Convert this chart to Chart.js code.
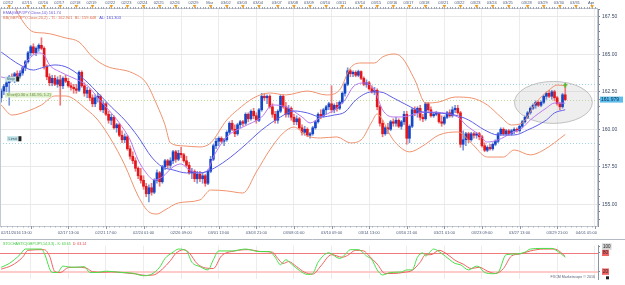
<!DOCTYPE html>
<html>
<head>
<meta charset="utf-8">
<script src="https://cdn.jsdelivr.net/npm/chart.js@4.4.0/dist/chart.umd.min.js"></script>
<style>
  html, body { margin: 0; padding: 0; background: #fff; }
  #wrap { position: relative; width: 625px; height: 285px; overflow: hidden; }
  .box { position: absolute; left: 0; width: 625px; }
</style>
</head>
<body>
<div id="wrap">
  <div class="box" style="top:0;height:240px"><canvas id="main"></canvas></div>
  <div class="box" style="top:240px;height:45px"><canvas id="stoch"></canvas></div>
</div>
<script>
// GBP/JPY 4h candles, 02/11/2016 13:00 -> 03/30
const opens = [
  162.10,162.55,162.85,163.10,163.50,163.40,163.70,163.55,163.75,164.10,
  164.50,165.10,165.50,165.10,165.40,165.60,165.40,164.20,163.50,163.10,
  163.40,163.00,163.30,162.90,163.40,163.20,162.90,162.80,162.70,162.60,
  163.80,162.90,162.40,162.60,162.10,161.70,162.10,162.20,161.30,161.70,
  161.00,160.60,160.80,160.10,160.30,159.60,159.30,159.50,158.70,158.20,
  157.90,157.40,156.90,156.60,156.20,155.70,156.10,155.80,156.60,157.10,
  156.50,157.50,157.90,157.60,157.90,158.50,158.00,158.40,158.30,157.90,
  157.60,157.10,157.20,156.70,157.00,156.70,156.90,156.40,157.20,158.00,
  158.90,159.20,159.40,159.20,159.30,159.80,160.40,160.00,159.70,160.30,
  160.50,160.40,161.00,160.70,161.20,160.90,160.60,161.30,162.20,162.10,
  162.20,161.50,161.00,160.60,161.20,162.20,161.50,161.00,161.40,160.80,
  160.50,160.70,160.10,159.80,160.00,159.60,159.70,160.10,160.50,161.00,
  160.90,161.30,161.50,161.70,161.30,161.60,161.40,161.80,162.40,163.00,
  163.90,163.70,163.80,163.60,163.85,163.40,163.00,163.10,162.70,162.50,
  162.60,161.50,160.40,159.70,160.10,160.00,160.50,160.40,160.60,160.20,
  160.50,161.00,159.40,160.20,161.30,161.10,161.40,160.80,160.70,161.70,
  161.30,160.90,161.00,161.05,160.50,160.40,160.80,161.10,160.90,161.30,
  161.40,161.10,159.00,159.30,159.70,159.30,159.70,159.60,159.70,159.50,
  158.90,158.60,158.80,158.70,159.00,159.20,159.70,160.00,159.70,159.90,
  159.70,159.90,160.00,159.90,160.20,160.50,160.80,161.10,161.40,161.60,
  161.80,161.60,161.80,162.20,162.40,162.20,162.50,162.10,161.70,161.50,
  162.30
];
const highs = [
  162.70,163.00,163.20,163.60,163.70,163.80,163.90,163.90,164.20,164.60,
  165.20,165.60,165.70,165.50,165.70,166.10,165.50,164.30,163.70,163.60,
  163.60,163.50,163.60,163.50,163.60,163.40,163.10,163.00,163.00,163.90,
  163.90,163.10,162.80,162.70,162.30,162.30,162.40,162.30,161.90,161.80,
  161.20,161.00,160.90,160.40,160.40,159.90,159.70,159.60,158.90,158.50,
  158.10,157.50,157.40,156.90,156.40,156.30,156.40,156.70,157.30,157.20,
  157.60,158.00,158.00,158.10,158.60,158.60,158.60,158.80,158.40,158.20,
  157.80,157.40,157.30,157.20,157.20,157.10,157.00,157.30,158.20,159.00,
  159.40,159.50,159.50,159.40,159.90,160.50,160.60,160.30,160.40,160.60,
  160.60,161.10,161.10,161.30,161.40,161.10,161.40,162.40,162.40,162.30,
  162.30,161.70,161.20,161.30,162.30,162.30,161.80,161.60,161.50,161.00,
  160.90,160.80,160.30,160.20,160.10,159.80,160.20,160.60,161.10,161.30,
  161.40,161.60,161.80,162.90,161.70,161.80,161.90,162.50,163.10,164.10,
  164.00,163.90,163.90,163.95,163.90,163.50,163.30,163.20,162.90,162.80,
  162.70,161.60,160.60,160.20,160.40,160.60,160.70,160.80,160.70,160.60,
  161.20,161.20,160.30,161.40,161.50,161.50,161.60,161.00,161.80,161.80,
  161.50,161.10,161.20,161.10,160.90,160.90,161.20,161.30,161.50,161.60,
  161.60,161.20,159.90,159.80,159.80,159.80,159.80,159.80,159.80,159.60,
  159.10,158.90,159.00,159.10,159.30,159.80,160.10,160.10,160.00,160.00,
  160.00,160.10,160.10,160.30,160.60,160.90,161.20,161.50,161.70,161.90,
  161.90,161.90,162.30,162.50,162.60,162.60,162.60,162.20,161.80,162.40,
  162.80
];
const lows = [
  161.80,162.30,162.50,161.60,163.20,163.10,163.30,163.40,163.60,163.90,
  164.40,164.90,165.00,164.90,165.20,165.30,164.00,163.30,162.90,162.90,
  162.90,162.80,161.60,162.70,163.10,162.80,162.60,162.40,162.40,162.50,
  162.80,162.20,162.10,161.90,161.50,161.50,161.80,161.20,161.10,160.90,
  160.40,160.30,160.00,159.80,159.50,159.10,159.10,158.60,158.00,157.70,
  157.20,156.70,156.40,156.00,155.50,155.15,155.60,155.70,156.40,156.20,
  156.40,157.30,157.40,157.40,157.70,157.80,157.90,158.10,157.80,157.50,
  157.00,156.70,156.50,156.40,156.50,156.40,156.20,156.30,157.10,157.90,
  158.70,158.90,159.10,158.90,159.20,159.70,159.90,159.50,159.60,160.10,
  160.20,160.30,160.50,160.60,160.70,160.40,160.50,161.20,161.90,161.70,
  161.40,160.80,160.40,160.40,161.10,161.40,160.80,160.80,160.60,160.30,
  160.30,160.00,159.60,159.60,159.50,159.40,159.60,160.00,160.40,160.70,
  160.80,161.00,161.30,161.10,161.10,161.20,161.30,161.70,162.20,162.90,
  163.50,163.50,163.50,163.50,163.30,162.90,162.80,162.60,162.40,162.30,
  161.30,160.20,159.50,159.60,159.70,159.90,160.20,160.20,160.10,160.00,
  160.30,159.00,159.10,160.10,160.90,160.80,160.60,160.50,160.60,161.20,
  160.80,160.80,160.90,160.40,160.20,160.30,160.70,160.80,160.80,161.10,
  161.00,158.80,158.60,158.90,159.10,159.20,159.40,159.40,159.30,158.80,
  158.50,158.50,158.60,158.60,158.90,159.10,159.60,159.60,159.60,159.60,
  159.60,159.70,159.80,159.80,160.10,160.40,160.70,161.00,161.30,161.40,
  161.50,161.50,161.70,162.00,162.10,162.00,161.90,161.60,161.30,161.40,
  161.90
];
const closes = [
  162.55,162.85,163.10,163.50,163.40,163.70,163.55,163.75,164.10,164.50,
  165.10,165.50,165.10,165.40,165.60,165.40,164.20,163.50,163.10,163.40,
  163.00,163.30,162.90,163.40,163.20,162.90,162.80,162.70,162.60,163.80,
  162.90,162.40,162.60,162.10,161.70,162.10,162.20,161.30,161.70,161.00,
  160.60,160.80,160.10,160.30,159.60,159.30,159.50,158.70,158.20,157.90,
  157.40,156.90,156.60,156.20,155.70,156.10,155.80,156.60,157.10,156.50,
  157.50,157.90,157.60,157.90,158.50,158.00,158.40,158.30,157.90,157.60,
  157.10,157.20,156.70,157.00,156.70,156.90,156.40,157.20,158.00,158.90,
  159.20,159.40,159.20,159.30,159.80,160.40,160.00,159.70,160.30,160.50,
  160.40,161.00,160.70,161.20,160.90,160.60,161.30,162.20,162.10,162.20,
  161.50,161.00,160.60,161.20,162.20,161.50,161.00,161.40,160.80,160.50,
  160.70,160.10,159.80,160.00,159.60,159.70,160.10,160.50,161.00,160.90,
  161.30,161.50,161.70,161.30,161.60,161.40,161.80,162.40,163.00,163.90,
  163.70,163.80,163.60,163.85,163.40,163.00,163.10,162.70,162.50,162.60,
  161.50,160.40,159.70,160.10,160.00,160.50,160.40,160.60,160.20,160.50,
  161.00,159.40,160.20,161.30,161.10,161.40,160.80,160.70,161.70,161.30,
  160.90,161.00,161.05,160.50,160.40,160.80,161.10,160.90,161.30,161.40,
  161.10,159.00,159.30,159.70,159.30,159.70,159.60,159.70,159.50,158.90,
  158.60,158.80,158.70,159.00,159.20,159.70,160.00,159.70,159.90,159.70,
  159.90,160.00,159.90,160.20,160.50,160.80,161.10,161.40,161.60,161.80,
  161.60,161.80,162.20,162.40,162.20,162.50,162.10,161.70,161.50,162.30,
  161.98
];

// indicator lines: [bar, value]
const bbUpper = [[5,168.2],[7,167.49],[12,166.49],[16,166.42],[24,166.09],[29,165.82],[34,164.82],[39,164.22],
  [49,163.75],[54,163.09],[58,161.62],[61,160.29],[63,159.09],[68,158.89],[74,158.82],[78,159.09],[84,160.62],
  [88,161.29],[94,162.09],[100,162.42],[106,162.29],[114,162.55],[121,162.29],[126,162.62],[130,164.09],
  [134,164.42],[139,164.42],[142,164.82],[146,165.02],[149,164.82],[154,163.29],[158,161.75],[163,161.82],
  [169,162.15],[175,162.09],[181,161.62],[186,160.82],[190,160.29],[194,160.42],[199,161.75],[204,162.62],
  [207,162.95],[210,162.90]];
const bbLower = [[0,161.62],[4,160.95],[10,161.22],[15,161.62],[20,162.22],[24,162.22],[32,161.29],[36,160.62],
  [41,159.29],[46,157.62],[51,155.55],[55,154.49],[58,154.35],[61,154.62],[66,155.09],[74,155.29],[78,155.95],
  [84,155.89],[90,155.75],[95,157.15],[100,158.62],[105,159.75],[109,160.15],[114,159.55],[119,159.42],
  [125,159.49],[130,159.09],[134,159.29],[138,160.49],[140,161.02],[142,160.62],[145,159.55],[148,158.89],
  [152,158.49],[157,158.89],[163,159.62],[170,159.82],[175,159.09],[181,158.15],[187,158.15],[191,158.62],
  [197,158.29],[202,158.62],[210,159.65]];
const bbMid = [[0,165.15],[7,164.29],[12,163.95],[15,164.09],[20,164.29],[25,164.09],[32,163.15],[36,162.42],
  [41,161.49],[46,160.62],[51,159.49],[56,158.15],[60,157.49],[64,157.29],[69,157.09],[74,157.09],[78,157.29],
  [84,157.95],[90,158.82],[97,159.95],[104,160.82],[109,161.22],[114,161.09],[119,160.82],[124,160.95],
  [128,161.15],[132,161.95],[138,162.49],[141,162.49],[146,162.09],[151,161.62],[157,161.15],[162,161.09],
  [169,160.95],[174,160.62],[180,159.95],[185,159.62],[191,159.62],[196,159.95],[203,160.62],[206,161.09],
  [210,161.30]];
const emaLine = [[0,163.49],[4,163.35],[7,163.82],[10,164.62],[14,165.09],[16,164.95],[18,164.29],[22,163.82],
  [26,163.49],[30,163.15],[33,162.75],[36,162.09],[40,161.29],[44,160.42],[48,159.29],[51,157.95],[54,157.09],
  [57,156.62],[60,156.82],[64,157.49],[67,157.69],[70,157.29],[74,157.09],[77,157.29],[79,158.15],[84,159.49],
  [90,160.15],[97,160.82],[101,161.62],[106,161.49],[112,160.82],[115,160.42],[119,160.82],[124,161.29],
  [128,161.95],[131,162.82],[135,163.09],[139,162.62],[142,161.29],[146,160.82],[149,160.82],[158,161.15],
  [170,160.82],[173,160.29],[178,159.62],[181,159.15],[185,159.29],[190,159.75],[194,160.09],[197,160.62],
  [203,161.42],[206,161.75],[210,161.74]];

// stochastic %K / %D: [bar, value]
const stochK = [[0,34],[3,46],[7,74],[9,92],[15,92],[16,80],[19,17.5],[21,17.5],[23,37.7],[25,35],[28,34],
  [31,36],[33,17.5],[36,17.5],[39,21.5],[44,18],[49,15],[53,7],[56,12],[59,34],[61,62],[64,82],[66,92],
  [69,86],[71,50],[74,36],[77,25.5],[79,58],[81,86],[86,86],[91,92],[96,84],[100,84],[102,66],[104,42],
  [106,58],[108,45],[111,24],[114,11],[116,14],[118,50],[122,80],[126,62],[128,74],[130,90],[133,90],
  [136,70],[138,58],[140,25.5],[142,9.5],[145,17.5],[149,19],[151,25.5],[153,25.5],[155,66],[157,80],
  [158,70],[161,92],[164,78],[167,58],[169,46],[171,42],[174,25.5],[177,37.7],[178,35],[180,17.5],
  [183,13.5],[185,17.5],[188,74],[191,76],[195,82],[197,92],[201,94],[205,94],[207,86],[210,66]];
const stochD = [[0,28],[4,40],[8,66],[10,88],[16,90],[18,70],[20,20],[22,17],[25,33],[29,34],[32,30],
  [34,20],[38,18],[41,19],[45,17],[50,13],[54,8],[57,10],[60,28],[63,55],[65,78],[68,90],[70,80],[73,45],
  [76,32],[79,30],[82,70],[87,86],[92,90],[97,84],[101,82],[103,62],[105,46],[107,52],[110,36],[113,18],
  [116,12],[119,38],[123,74],[127,66],[129,72],[132,88],[135,86],[137,70],[140,44],[143,14],[146,14],
  [150,18],[153,24],[156,50],[158,74],[160,74],[163,88],[166,76],[169,56],[172,44],[175,30],[178,34],
  [181,22],[184,14],[187,30],[190,70],[193,76],[197,86],[202,92],[206,92],[208,84],[210,68]];

// axis labels
const priceTicks = [155, 157.5, 160, 162.5, 165, 167.5];
const dayLabels = ['02/12','02/15','02/16','02/17','02/18','02/19','02/22','02/23','02/24','02/25','02/26',
  '02/29','Mar','03/02','03/03','03/04','03/07','03/08','03/09','03/10','03/11','03/14','03/15','03/16',
  '03/17','03/18','03/21','03/22','03/23','03/24','03/25','03/28','03/29','03/30','03/31','Apr'];
const dayBars = [3,10,16,22,28,34,41,47,53,59,65,72,78,84,90,96,103,109,115,121,127,134,140,146,152,158,
  165,171,177,183,189,196,202,208,214,220];
const timeLabels = ['02/11/2016 13:00','02/17 13:00','02/21 17:00','02/24 01:00','02/26 09:00','03/01 13:00',
  '03/03 21:00','03/08 01:00','03/10 09:00','03/14 13:00','03/16 21:00','03/21 01:00','03/23 09:00',
  '03/27 13:00','03/29 21:00','04/01 05:00'];
const timeBars = [0,25,39,53,67,81,95,109,123,137,151,165,179,193,207,221];
const gridBars = [11,25,39,53,67,81,95,109,123,137,151,165,179,193,207,221];

// orders on the chart
const orderNames = ['Stop', 'Short(0.30 x 161.95, 1.2)', 'Limit'];
const orderPrices = [163.05, 161.98, 159.07];
const lastPrice = 161.979;

const family = "'Liberation Sans', Arial, sans-serif";
const X_MIN = -0.43, X_MAX = 222.2;
const upCol = '#1646c8', dnCol = '#e2161c', upWick = '#7896dc', dnWick = '#ee7878';
const isUp = i => closes[i] >= opens[i];
const pts = arr => arr.map(([x, y]) => ({ x, y }));

function txt(ctx, s, x, y, color, size, align) {
  ctx.font = size + 'px ' + family;
  ctx.fillStyle = color;
  ctx.textAlign = align || 'left';
  ctx.textBaseline = 'middle';
  ctx.fillText(s, x, y);
}

const mainDecor = {
  id: 'mainDecor',
  beforeDatasetsDraw(chart) {
    const { ctx, chartArea: a, scales: { x, y } } = chart;
    ctx.save();
    // order lines
    const lineCols = ['#9fd4e0', '#b8de98', '#9fd4e0'];
    orderPrices.forEach((p, i) => {
      const py = Math.round(y.getPixelForValue(p)) + 0.5;
      ctx.strokeStyle = lineCols[i];
      ctx.setLineDash([1, 2]);
      ctx.lineWidth = 1;
      ctx.beginPath(); ctx.moveTo(a.left, py); ctx.lineTo(a.right, py); ctx.stroke();
    });
    ctx.setLineDash([]);
    // highlight ellipse round the last bars
    const cx = x.getPixelForValue(205.6), cy = y.getPixelForValue(161.79);
    const rx = x.getPixelForValue(205.6 + 14.5) - cx;
    const ry = cy - y.getPixelForValue(161.79 + 1.4);
    ctx.beginPath();
    ctx.ellipse(cx, cy, rx, ry, 0, 0, Math.PI * 2);
    ctx.fillStyle = 'rgba(200,200,200,0.3)';
    ctx.fill();
    ctx.strokeStyle = 'rgba(170,170,170,0.7)';
    ctx.lineWidth = 1;
    ctx.stroke();
    ctx.restore();
  },
  afterDatasetsDraw(chart) {
    const { ctx, chartArea: a, scales: { x, y } } = chart;
    ctx.save();
    // green marker over the last bar
    const mx = x.getPixelForValue(210), my = y.getPixelForValue(162.95);
    ctx.fillStyle = '#58b82c';
    ctx.beginPath(); ctx.moveTo(mx - 2.5, my + 0.5); ctx.lineTo(mx + 2.5, my + 0.5); ctx.lineTo(mx, my - 2.5); ctx.fill();
    ctx.fillRect(mx - 1, my, 2, 2.5);

    // order labels
    const bg = ['#c2e4e8', '#dcefc6', '#c2e4e8'], fg = ['#3a5a66', '#6a8a4a', '#3a5a66'];
    const lx = [5, 5, 7];
    orderPrices.forEach((p, i) => {
      const py = y.getPixelForValue(p) - 4.5;
      ctx.font = '4px ' + family;
      const w = ctx.measureText(orderNames[i]).width + 3;
      ctx.fillStyle = bg[i];
      ctx.fillRect(lx[i], py - 2.5, w, 5);
      txt(ctx, orderNames[i], lx[i] + 1.5, py, fg[i], 4);
      if (i !== 1) { ctx.fillStyle = '#202020'; ctx.fillRect(lx[i] + w, py - 2.5, 3, 5); }
    });

    // legend
    txt(ctx, 'EMA(GBP/JPY,Close,10) 161.74', 3, 12.5, '#6a58d8', 4);
    const bbTxt = 'BB(GBP/JPY,Close,20,2) - TL: 162.901  BL: 159.648';
    txt(ctx, bbTxt, 3, 17.5, '#e0704c', 4);
    ctx.font = '4px ' + family;
    txt(ctx, 'AL: 161.303', 3 + ctx.measureText(bbTxt).width + 3, 17.5, '#4a4ae0', 4);
    ctx.restore();
  },
  afterDraw(chart) {
    const { ctx, chartArea: a, scales: { x, y } } = chart;
    ctx.save();
    // frame
    ctx.strokeStyle = '#c4c8d0';
    ctx.lineWidth = 1;
    ctx.strokeRect(a.left + 0.5, a.top - 0.5, a.right - a.left - 1, a.bottom - a.top + 1);

    // top date strip
    for (let b = 0; b <= 221; b++) {
      const px = Math.round(x.getPixelForValue(b)) + 0.5;
      ctx.strokeStyle = '#9aa4b4';
      ctx.beginPath(); ctx.moveTo(px, a.top - 2); ctx.lineTo(px, a.top); ctx.stroke();
    }
    dayLabels.forEach((s, i) => {
      const px = x.getPixelForValue(dayBars[i]);
      ctx.fillStyle = '#f0a028';
      ctx.beginPath(); ctx.moveTo(px - 1.8, a.top - 4); ctx.lineTo(px + 1.8, a.top - 4); ctx.lineTo(px, a.top - 0.5); ctx.fill();
      txt(ctx, s, px - 1, 3.2, '#4c5a78', 4, 'center');
    });

    // bottom time strip
    for (let b = 0; b <= 221; b += 2) {
      const px = Math.round(x.getPixelForValue(b)) + 0.5;
      ctx.strokeStyle = '#a8b0bc';
      ctx.beginPath(); ctx.moveTo(px, a.bottom); ctx.lineTo(px, a.bottom + 1.5); ctx.stroke();
    }
    gridBars.forEach(b => {
      const px = Math.round(x.getPixelForValue(b)) + 0.5;
      ctx.strokeStyle = '#8c96a6';
      ctx.beginPath(); ctx.moveTo(px, a.bottom); ctx.lineTo(px, a.bottom + 3); ctx.stroke();
    });
    ctx.font = '4px ' + family;
    timeLabels.forEach((s, i) => {
      const w = ctx.measureText(s).width;
      const px = x.getPixelForValue(timeBars[i]);
      const left = Math.max(a.left + 1, Math.min(a.right - 1 - w, px - w / 2));
      txt(ctx, s, left, a.bottom + 6.5, '#4c5a78', 4);
    });
    ctx.strokeStyle = '#b4bac4';
    ctx.beginPath(); ctx.moveTo(0, 239.5); ctx.lineTo(625, 239.5); ctx.stroke();

    // current price box
    const py = y.getPixelForValue(lastPrice);
    ctx.fillStyle = '#5cbcec';
    ctx.fillRect(a.right + 2, py - 3, 23, 6);
    txt(ctx, lastPrice.toFixed(3), a.right + 3, py + 0.2, '#0c2c4c', 5);
    ctx.restore();
  }
};

new Chart(document.getElementById('main'), {
  type: 'bar',
  data: {
    datasets: [
      { type: 'line', data: pts(bbUpper), borderColor: '#f0926e', borderWidth: 1, pointRadius: 0, cubicInterpolationMode: 'monotone', order: 0 },
      { type: 'line', data: pts(bbLower), borderColor: '#f0926e', borderWidth: 1, pointRadius: 0, cubicInterpolationMode: 'monotone', order: 0 },
      { type: 'line', data: pts(bbMid), borderColor: '#5e5ee8', borderWidth: 1, pointRadius: 0, cubicInterpolationMode: 'monotone', order: 0 },
      { type: 'line', data: pts(emaLine), borderColor: '#b676f0', borderWidth: 1, pointRadius: 0, cubicInterpolationMode: 'monotone', order: 0 },
      {
        type: 'bar', data: opens.map((o, i) => ({ x: i, y: [o, closes[i]] })),
        backgroundColor: c => isUp(c.dataIndex) ? upCol : dnCol,
        barThickness: 2, minBarLength: 1, grouped: false, borderWidth: 0, order: 1
      },
      {
        type: 'bar', data: highs.map((h, i) => ({ x: i, y: [lows[i], h] })),
        backgroundColor: c => isUp(c.dataIndex) ? upWick : dnWick,
        barThickness: 1, grouped: false, borderWidth: 0, order: 2
      }
    ]
  },
  options: {
    responsive: true,
    maintainAspectRatio: false,
    animation: false,
    layout: { padding: { top: 9, left: 0, right: 0, bottom: 0 } },
    plugins: { legend: { display: false }, tooltip: { enabled: false } },
    scales: {
      x: {
        type: 'linear', min: X_MIN, max: X_MAX, offset: false,
        afterBuildTicks: s => { s.ticks = gridBars.map(v => ({ value: v })); },
        afterFit: s => { s.height = 14; },
        ticks: { display: false },
        grid: { color: '#ececec', drawTicks: false, offset: false },
        border: { display: false }
      },
      y: {
        position: 'right', min: 153.55, max: 168.02,
        afterBuildTicks: s => { s.ticks = []; for (let v = 154; v <= 168; v += 0.5) s.ticks.push({ value: v }); },
        afterFit: s => { s.width = 27; },
        ticks: {
          autoSkip: false, padding: 2, color: '#3c4a6a',
          font: { size: 5, family },
          callback: v => priceTicks.includes(v) ? v.toFixed(2) : ''
        },
        grid: {
          color: c => priceTicks.includes(c.tick.value) ? '#e8e8e8' : 'transparent',
          tickColor: '#7a869a', tickLength: 2
        },
        border: { color: '#8a94a8' }
      }
    }
  },
  plugins: [mainDecor]
});

const stochDecor = {
  id: 'stochDecor',
  beforeDatasetsDraw(chart) {
    const { ctx, chartArea: a, scales: { y } } = chart;
    ctx.save();
    ctx.strokeStyle = '#f07a7a'; ctx.lineWidth = 1;
    let py = Math.round(y.getPixelForValue(80)) + 0.5;
    ctx.beginPath(); ctx.moveTo(a.left, py); ctx.lineTo(a.right, py); ctx.stroke();
    ctx.strokeStyle = '#ffcaca'; ctx.lineWidth = 2;
    py = Math.round(y.getPixelForValue(20));
    ctx.beginPath(); ctx.moveTo(a.left, py); ctx.lineTo(a.right, py); ctx.stroke();
    ctx.restore();
  },
  afterDraw(chart) {
    const { ctx, chartArea: a } = chart;
    ctx.save();
    const kTxt = 'STOCHASTIC(GBP/JPY,14,3,3) - K: 63.65';
    txt(ctx, kTxt, 3, 3.5, '#3cc83c', 3.6);
    ctx.font = '3.6px ' + family;
    txt(ctx, 'D: 63.14', 3 + ctx.measureText(kTxt).width + 2, 3.5, '#e84848', 3.6);
    txt(ctx, 'FXCM Marketscope \u00a9 2016', a.right - 3, a.bottom - 2.5, '#5a6478', 3.6, 'right');
    ctx.fillStyle = '#202020';
    ctx.fillRect(a.right + 8, a.bottom - 3, 3, 3);
    ctx.restore();
  }
};

new Chart(document.getElementById('stoch'), {
  type: 'line',
  data: {
    datasets: [
      { data: pts(stochK), borderColor: '#48de48', borderWidth: 1, pointRadius: 0, cubicInterpolationMode: 'monotone' },
      { data: pts(stochD), borderColor: '#f06060', borderWidth: 1, pointRadius: 0, cubicInterpolationMode: 'monotone' }
    ]
  },
  options: {
    responsive: true,
    maintainAspectRatio: false,
    animation: false,
    layout: { padding: 0 },
    plugins: { legend: { display: false }, tooltip: { enabled: false } },
    scales: {
      x: {
        type: 'linear', min: X_MIN, max: X_MAX, offset: false,
        afterBuildTicks: s => { s.ticks = gridBars.map(v => ({ value: v })); },
        afterFit: s => { s.height = 1; },
        ticks: { display: false },
        grid: { color: '#ececec', drawTicks: false },
        border: { display: false }
      },
      y: {
        position: 'right', min: -4.4, max: 102.7,
        afterBuildTicks: s => { s.ticks = [{ value: 20 }, { value: 80 }, { value: 100 }]; },
        afterFit: s => { s.width = 27; },
        ticks: {
          autoSkip: false, padding: 3, color: '#222',
          font: { size: 4.5, family },
          showLabelBackdrop: true,
          backdropColor: c => c.tick && c.tick.value === 100 ? '#d4d4d4' : '#f26464',
          backdropPadding: { top: 0.5, bottom: 0.5, left: 1, right: 1 }
        },
        grid: { drawOnChartArea: false, tickColor: '#7a869a', tickLength: 2 },
        border: { color: '#8a94a8' }
      }
    }
  },
  plugins: [stochDecor]
});
</script>
</body>
</html>
